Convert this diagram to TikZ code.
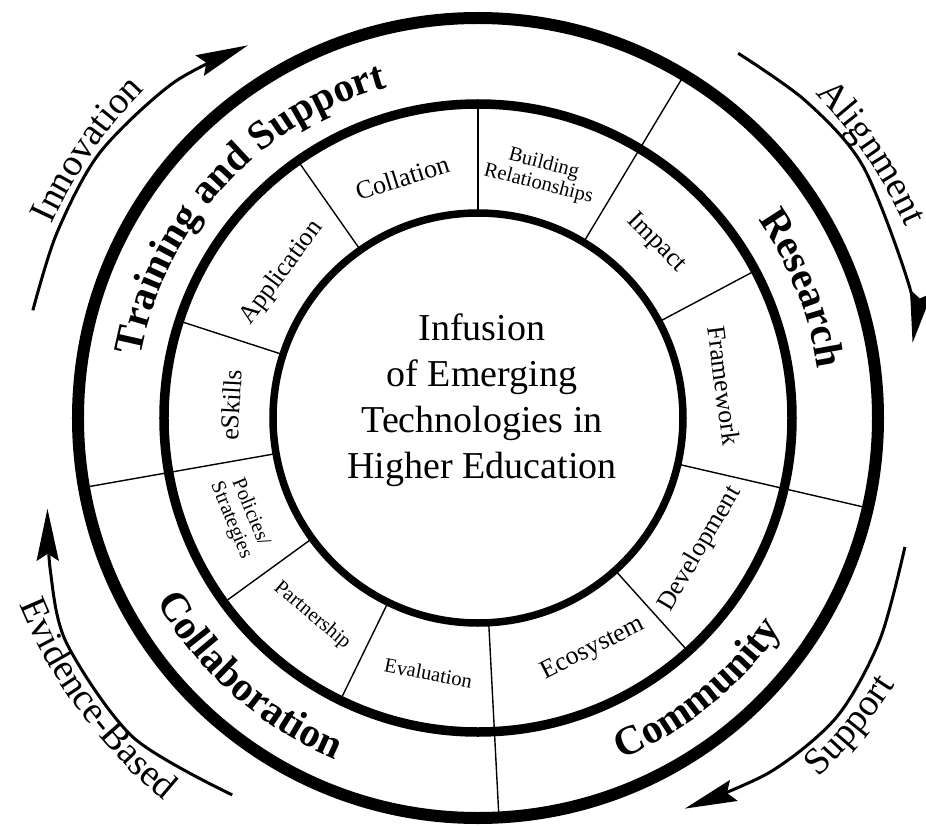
\documentclass[tikz,border=0pt]{standalone}
\usepackage{fontspec}
\setmainfont{Liberation Serif}
\usetikzlibrary{arrows.meta,decorations.text}
\begin{document}
\begin{tikzpicture}[x=1pt,y=1pt,
  ringnode/.style={circle, draw, inner sep=0pt, outer sep=0pt, minimum size=#1},
  divider/.style={line width=1.4pt},
  lbl/.style={font=\fontsize{26}{28}\selectfont, inner sep=0pt, align=center},
  slbl/.style={font=\fontsize{20.5}{21}\selectfont, inner sep=0pt, align=center},
  flowarrow/.style={line width=3pt, -{Stealth[length=52pt,width=22pt,inset=7pt]}},
]
\fill[white] (-478,-407) rectangle (448,418);
\useasboundingbox (-478,-407) rectangle (448,418);
\coordinate (c) at (0,0);

% rings
\node[ringnode=800pt, line width=12pt] (outer) at (c) {};
\node[ringnode=628pt, line width=9.5pt] (middle) at (c) {};
\node[ringnode=410pt, line width=7.5pt] (inner) at (c) {};

% dividers in the middle ring only
\foreach \a in {90,28,-48,244.5,216.5,162,125}{
  \draw[divider] (inner.\a) -- (middle.\a);
}
% dividers through both rings
\foreach \a in {59.5,-13,-87.5,190.5}{
  \draw[divider] (inner.\a) -- (outer.\a);
}

% centre text
\node[inner sep=0pt, align=center, anchor=north, font=\fontsize{38}{45.7}\selectfont] (title) at (4,104)
  {Infusion\\of Emerging\\Technologies in\\Higher Education};

% middle ring labels
\node[lbl, rotate=17.5] (collation) at (107.5:252pt) {Collation};
\node[slbl, rotate=-14.5] (building) at (75.5:252pt) {Building\\Relationships};
\node[lbl, rotate=-45.5] (impact) at (44.5:250pt) {Impact};
\node[lbl, rotate=-82.5] (framework) at (7.5:248pt) {Framework};
\node[lbl, rotate=59.5] (development) at (-30.5:258pt) {Development};
\node[lbl, rotate=26.5] (ecosystem) at (-63.5:258pt) {Ecosystem};
\node[slbl, rotate=-11] (evaluation) at (-101:260pt) {Evaluation};
\node[slbl, rotate=-40] (partnership) at (-130:258pt) {Partnership};
\node[slbl, rotate=-67.5] (policies) at (202.5:257pt) {Policies/\\Strategies};
\node[lbl, rotate=87] (eskills) at (177:247pt) {eSkills};
\node[lbl, rotate=53.5] (application) at (143.5:244pt) {Application};

% outer ring labels (curved)
\path[decorate, decoration={text along path, text align=center,
  text={|\fontsize{41}{41}\selectfont\bfseries|Training and Support}}]
  (200:343pt) arc[start angle=200, end angle=75, radius=343pt];
\path[decorate, decoration={text along path, text align=center,
  text={|\fontsize{41}{41}\selectfont\bfseries|Research}}]
  (60:343pt) arc[start angle=60, end angle=-16.5, radius=343pt];
\path[decorate, decoration={text along path, text align=center,
  text={|\fontsize{41}{41}\selectfont\bfseries|Community}}]
  (-90:370pt) arc[start angle=-90, end angle=-12, radius=370pt];
\path[decorate, decoration={text along path, text align=center,
  text={|\fontsize{41}{41}\selectfont\bfseries|Collaboration}}]
  (190:370pt) arc[start angle=190, end angle=267, radius=370pt];

% outside arrows
\draw[flowarrow] plot[smooth] coordinates {(166.4:458pt) (156.3:460pt) (145:462pt) (132.3:453pt) (121.7:438pt)};
\draw[flowarrow] plot[smooth] coordinates {(54.5:448pt) (44:456pt) (33.1:460pt) (16.5:451pt) (9.8:441pt)};
\draw[flowarrow] plot[smooth] coordinates {(-16.8:446pt) (-28.9:459pt) (-39.8:467pt) (-50.5:459pt) (-62.1:442pt)};
\draw[flowarrow] plot[smooth] coordinates {(236.9:450pt) (222.8:470pt) (208.7:469pt) (199.6:454pt) (191.9:440pt)};

% arrow labels (curved)
\path[decorate, decoration={text along path, text align=center,
  text={|\fontsize{38}{38}\selectfont|Innovation}}]
  (175:468pt) arc[start angle=175, end angle=116, radius=468pt];
\path[decorate, decoration={text along path, text align=center,
  text={|\fontsize{38}{38}\selectfont|Alignment}}]
  (60:468pt) arc[start angle=60, end angle=8, radius=468pt];
\path[decorate, decoration={text along path, text align=center,
  text={|\fontsize{38}{38}\selectfont|Support}}]
  (-70:495pt) arc[start angle=-70, end angle=-9.2, radius=495pt];
\path[decorate, decoration={text along path, text align=center,
  text={|\fontsize{38}{38}\selectfont|Evidence-Based}}]
  (186:495pt) arc[start angle=186, end angle=246.8, radius=495pt];
\end{tikzpicture}
\end{document}
